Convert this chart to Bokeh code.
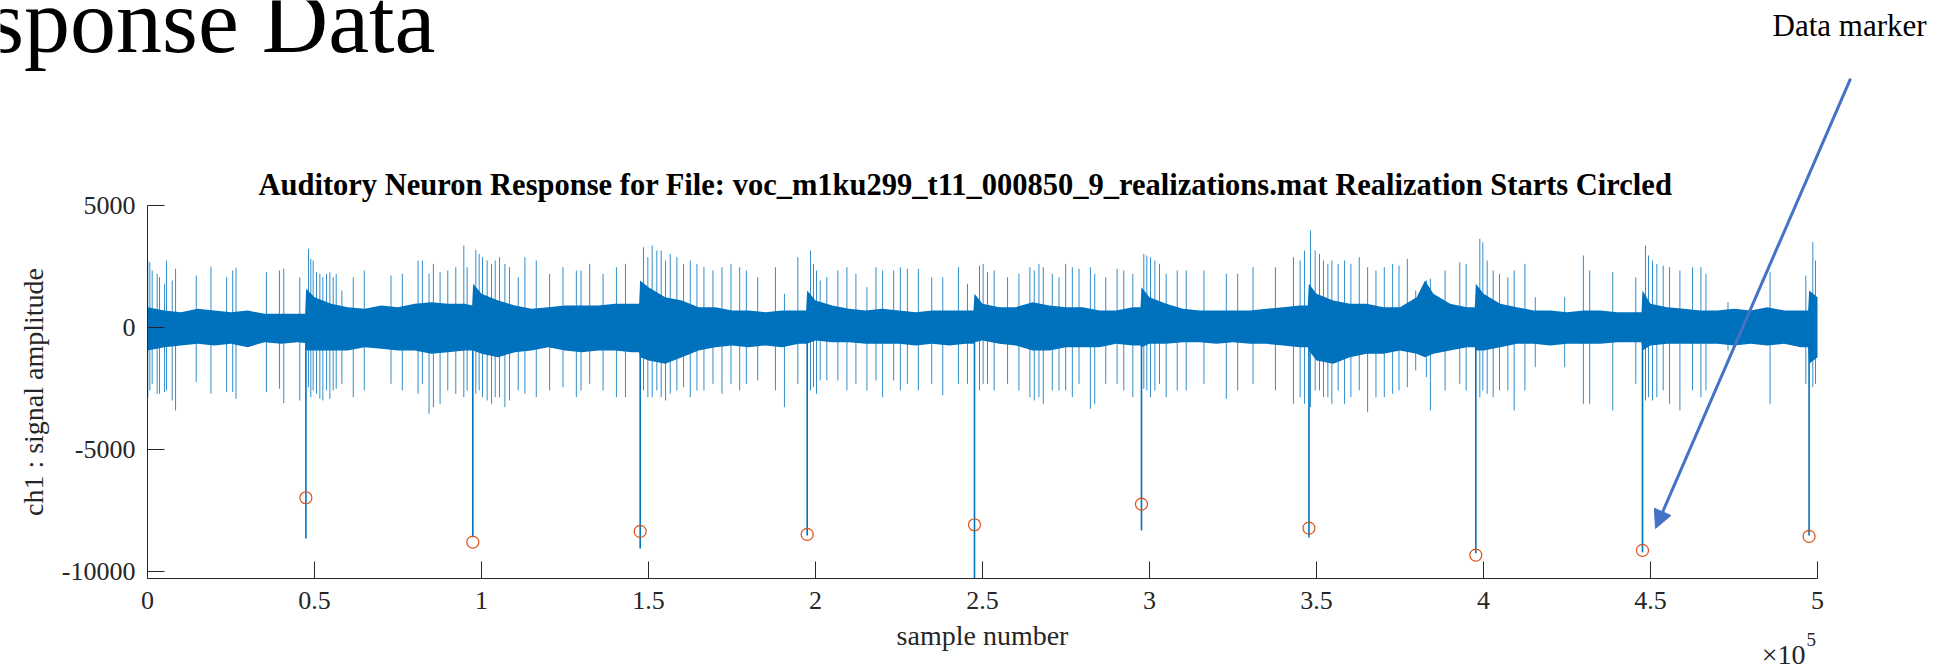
from bokeh.plotting import figure
from bokeh.models import Range1d, FixedTicker, Label, Arrow, NormalHead
from bokeh.embed import file_html
from bokeh.resources import INLINE

# ---------------- data ----------------
x_ticks = [0, 50000, 100000, 150000, 200000, 250000, 300000, 350000, 400000, 450000, 500000]
x_tick_labels = ["0", "0.5", "1", "1.5", "2", "2.5", "3", "3.5", "4", "4.5", "5"]
y_ticks = [-10000, -5000, 0, 5000]
y_tick_labels = ["-10000", "-5000", "0", "5000"]
x_limits = (0, 500000)
y_limits = (-10290, 5000)

# dense background band of the recording (upper / lower envelope)
band_x = [0, 5000, 10000, 15000, 20000, 25000, 30000, 35000, 40000, 45000, 47200, 47500,
          50000, 55000, 60000, 65000, 70000, 75000, 80000, 85000, 90000, 95000, 97200, 97500,
          100000, 105000, 110000, 115000, 120000, 125000, 130000, 135000, 140000, 145000, 147200, 147500,
          150000, 155000, 160000, 165000, 170000, 175000, 180000, 185000, 190000, 195000, 197200, 197500,
          200000, 205000, 210000, 215000, 220000, 225000, 230000, 235000, 240000, 245000, 247300, 247600,
          250000, 255000, 260000, 265000, 270000, 275000, 280000, 285000, 290000, 295000, 297300, 297600,
          300000, 305000, 310000, 315000, 320000, 325000, 330000, 335000, 340000, 345000, 347400, 347700,
          350000, 355000, 360000, 365000, 370000, 375000, 380000, 382500, 385000, 390000, 395000, 397400, 397700,
          400000, 405000, 410000, 415000, 420000, 425000, 430000, 435000, 440000, 445000, 447300, 447600,
          450000, 455000, 460000, 465000, 470000, 475000, 480000, 485000, 490000, 495000, 497200, 497500,
          500000]
band_hi = [833, 697, 628, 765, 697, 628, 697, 560, 560, 560, 560, 1584,
           1243, 969, 833, 765, 901, 833, 969, 1038, 969, 969, 901, 1789,
           1379, 1106, 901, 765, 833, 901, 901, 901, 969, 969, 969, 1926,
           1652, 1243, 1106, 833, 833, 697, 697, 628, 697, 697, 697, 1516,
           1106, 901, 765, 697, 765, 697, 628, 697, 697, 697, 697, 1379,
           969, 833, 833, 1038, 901, 833, 833, 697, 697, 833, 833, 1652,
           1243, 969, 765, 697, 697, 697, 697, 765, 833, 901, 901, 1789,
           1379, 1106, 969, 969, 833, 833, 1243, 1926, 1379, 969, 833, 833, 1789,
           1379, 969, 833, 697, 697, 628, 697, 697, 628, 628, 628, 1516,
           969, 833, 765, 697, 697, 765, 697, 833, 697, 697, 697, 1516,
           1243]
band_lo = [-943, -806, -738, -670, -738, -670, -806, -601, -670, -601, -640, -943,
           -943, -943, -943, -806, -875, -943, -943, -1080, -1011, -943, -943, -943,
           -1080, -1216, -1011, -943, -806, -943, -1011, -943, -943, -1011, -1011, -1216,
           -1353, -1489, -1216, -943, -806, -738, -806, -738, -806, -670, -670, -670,
           -533, -601, -601, -670, -670, -670, -738, -670, -738, -670, -670, -601,
           -533, -670, -738, -943, -943, -806, -806, -806, -670, -738, -738, -806,
           -670, -670, -601, -601, -670, -601, -670, -670, -738, -806, -806, -943,
           -1353, -1489, -1216, -1080, -1080, -943, -1080, -1216, -1080, -943, -806, -806, -943,
           -943, -806, -670, -670, -738, -670, -670, -670, -601, -601, -601, -943,
           -738, -670, -670, -670, -670, -738, -670, -738, -670, -806, -806, -1489,
           -1216]

# individual spikes: sample, peak above, trough below
spike_x = [100, 700, 1400, 2900, 3600, 5100, 5700, 7400, 8400, 14600, 19000, 23700, 25500, 26500, 35600, 39500, 40800, 45600,
           48200, 48900, 49600, 50600, 51600, 52500, 53600, 54600, 55600, 56500, 58200, 61600, 64900, 72900, 76300, 81000,
           82300, 84300, 85600, 87600, 89900, 92300, 94700, 95700,
           98300, 99300, 100300, 101700, 103000, 104100, 105400, 107000, 108400, 111000, 113000, 116400, 120400, 124400,
           128400, 129800, 132400, 136400, 140400, 143100,
           148500, 149800, 151100, 152500, 153800, 155100, 156500, 158500, 160500, 162500, 164500, 166600, 169300, 172000,
           174700, 177300, 179300, 182700, 188000, 190700, 194700,
           198500, 199400, 200300, 201400, 203400, 206700, 209400, 212100, 215400, 218100, 220100, 223400, 225400, 227500,
           230800, 234800, 238100, 242800, 245500,
           249100, 250200, 251500, 253500, 257500, 260900, 264200, 265500, 266900, 268200, 270900, 272900, 274900, 276900,
           278900, 282300, 283600, 286900, 290300, 292300, 295000,
           298300, 299200, 300300, 301600, 303000, 305000, 308300, 311000, 316300, 323000, 326400, 331000, 337700, 343100,
           345100, 346400,
           348200, 349600, 350900, 352100, 353400, 354600, 356500, 358400, 360300, 362800, 365300, 367800, 370300, 372800,
           374700, 377200, 379700, 382900, 384100, 388500, 392900, 394800,
           398900, 399800, 401100, 402900, 404800, 407300, 409200, 412400, 415500, 424300, 429900, 431800, 438700, 445600,
           448500, 449400, 450600, 451900, 453800, 455700, 458800, 462600, 465100, 466600, 473200, 485800, 496500, 498600,
           499400]
spike_hi = [2746, 2677, 2336, 2199, 2063, 1789, 2746, 1926, 2404, 2131, 2500, 2063, 2336, 2445, 2268, 2336, 2404, 2063,
            3223, 2813, 2745, 2267, 2199, 2062, 2199, 2267, 2062, 2199, 1516, 2062, 2335, 2131, 2199, 2745,
            2745, 2199, 2609, 2267, 2335, 2472, 3360, 2472,
            3182, 3018, 2882, 2745, 2609, 2745, 2882, 2609, 2472, 2062, 2882, 2745, 2199, 2472,
            2335, 2335, 2609, 2199, 2472, 2609,
            3292, 2882, 3360, 3155, 3155, 2745, 3018, 2882, 2609, 2745, 2609, 2472, 2335, 2472,
            2609, 2472, 2335, 2062, 2472, 1379, 2882,
            3155, 2609, 2335, 1926, 2062, 2335, 2472, 2199, 1652, 2472, 2335, 2335, 2472, 2404,
            2404, 2062, 2062, 2472, 1789,
            2540, 2609, 2267, 2335, 2062, 2199, 2472, 2335, 2609, 2472, 2199, 2062, 2609, 2472,
            2404, 2472, 2199, 2062, 2404, 2335, 2199,
            3018, 2950, 2882, 2745, 2609, 2199, 2335, 2335, 2335, 2199, 2199, 2472, 2472, 2882,
            2745, 3155,
            3975, 3155, 3018, 2745, 2609, 2745, 2609, 2745, 2609, 2882, 2472, 2335, 2472, 2609,
            2540, 2813, 1516, 1926, 1994, 2335, 2677, 2609,
            3633, 3496, 2745, 2335, 2199, 2062, 2335, 2609, 1243, 1243, 2950, 2335, 2267, 2062,
            3360, 2950, 2745, 2609, 2540, 2472, 2335, 2472, 2472, 2199, 1038, 2267, 2131, 3496,
            2745]
spike_lo = [-2855, -2582, -2309, -2718, -2718, -2650, -2582, -2992, -3401, -2240, -2718, -2650, -2650, -2923, -2650, -2514, -3101, -2992,
            -2446, -2856, -2583, -2720, -2924, -2992, -2583, -2924, -2583, -2514, -2309, -2856, -2583, -2309, -2583, -2720,
            -2309, -3539, -3266, -3129, -2583, -2720, -2856, -2583,
            -2720, -2583, -2856, -2992, -3129, -2856, -2856, -3266, -2992, -2583, -2720, -2856, -2583, -2446,
            -2856, -2583, -2309, -2583, -2856, -2856,
            -2583, -2856, -2856, -2583, -2856, -2992, -2720, -2583, -2446, -2856, -2583, -2583, -2309, -2720,
            -2309, -2583, -2309, -2173, -2583, -3266, -2309,
            -2583, -2446, -2720, -2173, -2173, -2173, -2583, -2309, -2583, -2173, -2856, -2173, -2583, -2309,
            -2583, -2309, -2787, -2309, -2309,
            -2583, -2309, -2309, -2583, -2309, -2583, -2856, -2992, -2856, -3129, -2583, -2583, -2583, -2856,
            -2309, -3334, -3129, -2309, -2309, -2583, -2856,
            -2514, -2583, -2856, -2583, -2309, -2856, -2583, -2583, -2309, -2924, -2583, -2309, -2583, -3129,
            -2856, -3129,
            -3266, -2583, -2583, -2856, -2856, -3129, -2583, -3129, -2856, -2583, -3470, -2856, -2856, -2720,
            -2583, -2446, -1763, -2036, -3402, -2583, -2309, -2583,
            -2856, -2583, -2720, -2856, -2583, -2583, -3402, -2583, -1626, -1626, -3129, -3129, -3402, -2309,
            -2992, -2856, -2992, -2856, -2583, -3129, -3402, -2583, -2856, -2583, -943, -3129, -2309, -2446,
            -2309]

# realization starts (circled) and the deep artefact at each start
start_x = [47425, 97400, 147510, 197510, 247600, 297600, 347750, 397700, 447600, 497480]
start_marker_y = [-6980, -8799, -8361, -8484, -8086, -7242, -8225, -9331, -9139, -8566]
start_trough = [-8650, -8600, -9060, -8525, -10290, -8320, -8607, -9260, -9220, -8525]

TITLE = "Auditory Neuron Response for File: voc_m1ku299_t11_000850_9_realizations.mat Realization Starts Circled"

# ---------------- layout: the frame covers the whole page, the axes are pinned ----------------
W, H = 1959, 670
AX_LEFT, AX_RIGHT, AX_TOP, AX_BOTTOM = 147, 1817, 205, 578   # pixel box of the axes
ux = (x_limits[1] - x_limits[0]) / (AX_RIGHT - AX_LEFT)
uy = (y_limits[1] - y_limits[0]) / (AX_BOTTOM - AX_TOP)
xr = Range1d(x_limits[0] - AX_LEFT * ux, x_limits[1] + (W - AX_RIGHT) * ux)
yr = Range1d(y_limits[0] - (H - AX_BOTTOM) * uy, y_limits[1] + AX_TOP * uy)

AX = "#262626"
BLUE = "#0072BD"
ORANGE = "#D95319"
ARROW = "#4472C4"
FONT = "Liberation Serif"

p = figure(width=W, height=H, output_backend="svg", toolbar_location=None,
           x_range=xr, y_range=yr, min_border=0)
p.outline_line_color = None
p.grid.visible = False
p.background_fill_color = "white"
p.border_fill_color = "white"

p.varea(x=band_x, y1=band_lo, y2=band_hi, fill_color=BLUE, fill_alpha=1.0)
p.segment(x0=spike_x, y0=spike_lo, x1=spike_x, y1=spike_hi, line_color=BLUE, line_width=1, line_alpha=0.8)
p.segment(x0=start_x, y0=[0] * len(start_x), x1=start_x, y1=start_trough, line_color=BLUE, line_width=1.6)
p.scatter(x=start_x, y=start_marker_y, marker="circle", size=12, fill_color=None,
          line_color=ORANGE, line_width=1.2)

xa = p.xaxis[0]
ya = p.yaxis[0]
xa.fixed_location = y_limits[0]
ya.fixed_location = x_limits[0]
xa.bounds = x_limits
ya.bounds = y_limits
xa.ticker = FixedTicker(ticks=x_ticks)
xa.major_label_overrides = {t: s for t, s in zip(x_ticks, x_tick_labels)}
ya.ticker = FixedTicker(ticks=y_ticks)
ya.major_label_overrides = {t: s for t, s in zip(y_ticks, y_tick_labels)}
xa.axis_label = "sample number"
ya.axis_label = "ch1 : signal amplitude"
for ax in (xa, ya):
    ax.axis_line_color = AX
    ax.axis_line_width = 1
    ax.major_tick_line_color = AX
    ax.major_tick_in = 17
    ax.major_tick_out = 0
    ax.minor_tick_line_color = None
    ax.major_label_text_font = FONT
    ax.major_label_text_font_size = "26px"
    ax.major_label_text_color = AX
    ax.axis_label_text_font = FONT
    ax.axis_label_text_font_size = "28px"
    ax.axis_label_text_font_style = "normal"
    ax.axis_label_text_color = AX
ya.major_label_standoff = 12
ya.axis_label_standoff = 10
xa.major_label_standoff = 13
xa.axis_label_standoff = 8

# title of the axes
p.add_layout(Label(x=33230, y=5830, text=TITLE, text_font=FONT, text_font_size="30.5px",
                   text_font_style="bold", text_align="left", text_baseline="alphabetic",
                   text_color="black"))

# exponent note under the x axis
p.add_layout(Label(x=496400, y=-13400, text="\u00d710", text_font=FONT, text_font_size="28px",
                   text_align="right", text_baseline="alphabetic", text_color=AX))
p.add_layout(Label(x=496700, y=-12790, text="5", text_font=FONT, text_font_size="19px",
                   text_align="left", text_baseline="alphabetic", text_color=AX))

# slide heading fragment and annotation
p.add_layout(Label(x=86200, y=12560, text="sponse Data", text_font=FONT, text_font_size="92px",
                   text_align="right", text_baseline="alphabetic", text_color="black"))
p.add_layout(Label(x=509600, y=12360, text="Data marker", text_font=FONT, text_font_size="31px",
                   text_align="center", text_baseline="alphabetic", text_color="black"))
p.add_layout(Arrow(end=NormalHead(size=18, fill_color=ARROW, line_color=ARROW),
                   x_start=509900, y_start=10204, x_end=451500, y_end=-8237,
                   line_color=ARROW, line_width=3))

open("out.html", "w").write(file_html(p, INLINE))
